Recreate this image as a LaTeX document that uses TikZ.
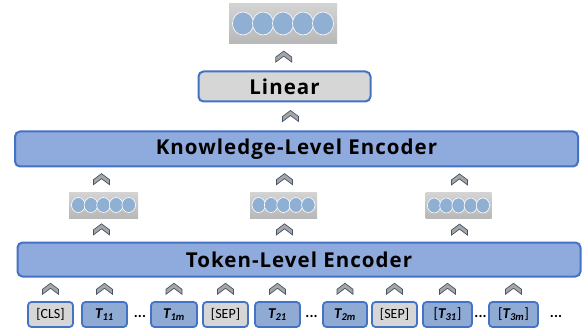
\documentclass[tikz,border=0pt]{standalone}
\usepackage{fontspec}
\setmainfont{Carlito}
\newfontfamily\headfont[LetterSpace=5]{Open Sans}
\usetikzlibrary{calc}
\definecolor{encfill}{HTML}{8FAADC}
\definecolor{encline}{HTML}{4472C4}
\definecolor{tokfill}{HTML}{8FAAD3}
\definecolor{grayfill}{HTML}{D6D6D6}
\definecolor{vecfill}{HTML}{CCCCCC}
\definecolor{dotfill}{HTML}{8FB0D2}
\definecolor{chevfill}{HTML}{A6A6A6}
\definecolor{chevline}{HTML}{44546A}
\tikzset{
  encbox/.style={draw=encline, fill=encfill, line width=2pt, rounded corners=5pt,
    inner sep=0pt, font=\headfont\bfseries\fontsize{20.5}{22}\selectfont},
  linbox/.style={encbox, fill=grayfill},
  tokbox/.style={draw=encline, fill=tokfill, line width=1.8pt, rounded corners=3.5pt,
    inner sep=0pt, minimum height=25pt, font=\bfseries\itshape\fontsize{15}{16}\selectfont},
  spbox/.style={tokbox, fill=grayfill, font=\fontsize{14}{15}\selectfont},
  vecbox/.style={draw=none, top color=vecfill!85!white, bottom color=vecfill!90!black, inner sep=0pt},
  vdot/.style={draw=white, fill=dotfill, line width=0.6pt},
  ell/.style={font=\bfseries\fontsize{15}{16}\selectfont, inner sep=0pt},
  chev/.pic={\filldraw[fill=chevfill, draw=chevline, line width=0.7pt]
    (-8,0) -- (0,-6) -- (8,0) -- (8,5) -- (0,-1) -- (-8,5) -- cycle;}
}
% draws five dots across a vector box
\newcommand\vecdots[3]{% node name, x-radius, y-radius
  \foreach \k in {-2,...,2}
    \path[vdot] ($(#1.center)+(\k*2*#2,0)$) ellipse [x radius=#2+0.5, y radius=#3];}
\newcommand\tokname[1]{T\textsubscript{#1}}
\begin{document}
\begin{tikzpicture}[x=1pt,y=-1pt]
\useasboundingbox (0,0) rectangle (583,331);

% output vector and linear layer
\node[vecbox, minimum width=108pt, minimum height=40pt] (out) at (283,23.5) {};
\vecdots{out}{10}{11.5}
\node[linbox, minimum width=172pt, minimum height=30pt] (lin) at (284.5,86.5) {Linear};

% knowledge-level encoder
\node[encbox, minimum width=563pt, minimum height=35pt] (ke) at (296.5,149) {Knowledge-Level Encoder};

% sentence vectors
\node[vecbox, minimum width=69pt, minimum height=26pt] (v1) at (103.5,205) {};
\node[vecbox, minimum width=67pt, minimum height=26pt] (v2) at (283.5,205) {};
\node[vecbox, minimum width=66pt, minimum height=26pt] (v3) at (458.5,205.5) {};
\vecdots{v1}{6.3}{7.5}
\vecdots{v2}{6.2}{7.5}
\vecdots{v3}{6.1}{7.5}

% token-level encoder
\node[encbox, minimum width=563pt, minimum height=34pt] (te) at (299,259.5) {Token-Level Encoder};

% input tokens
\node[spbox, minimum width=45pt] (cls) at (50.5,314.5) {[CLS]};
\node[tokbox, minimum width=45pt] (t11) at (104.5,314.5) {\tokname{11}};
\node[ell] (e1) at (140,316) {...};
\node[tokbox, minimum width=46pt] (t1m) at (174,314.5) {\tokname{1m}};
\node[spbox, minimum width=45pt] (sep1) at (225.5,314.5) {[SEP]};
\node[tokbox, minimum width=45pt] (t21) at (277.5,314.5) {\tokname{21}};
\node[ell] (e2) at (311.5,316) {...};
\node[tokbox, minimum width=44pt] (t2m) at (345,314.5) {\tokname{2m}};
\node[spbox, minimum width=45pt] (sep2) at (394.5,314.5) {[SEP]};
\node[tokbox, minimum width=49pt] (t31) at (447.5,314.5) {\textnormal{[}\tokname{31}\textnormal{]}};
\node[ell] (e3) at (480.5,316) {...};
\node[tokbox, minimum width=49pt] (t3m) at (513.5,314.5) {\textnormal{[}\tokname{3m}\textnormal{]}};
\node[ell] (e4) at (556,316) {...};

% upward chevrons between the stages
\path ($(out.south)!0.5!(lin.north)$) pic {chev};
\path ($(lin.south)!0.5!(ke.north)$) pic {chev};
\foreach \v/\dx in {v1/-2,v2/1,v3/1} {
  \path ($(\v.north)!0.5!(\v.north |- ke.south)+(\dx,0)$) pic {chev};
  \path ($(\v.south)!0.5!(\v.south |- te.north)+(\dx,0)$) pic {chev};
}
\foreach \t in {cls,t11,t1m,sep1,t21,t2m,sep2,t31,t3m}
  \path ($(\t.north)!0.5!(\t.north |- te.south)$) pic {chev};
\end{tikzpicture}
\end{document}
